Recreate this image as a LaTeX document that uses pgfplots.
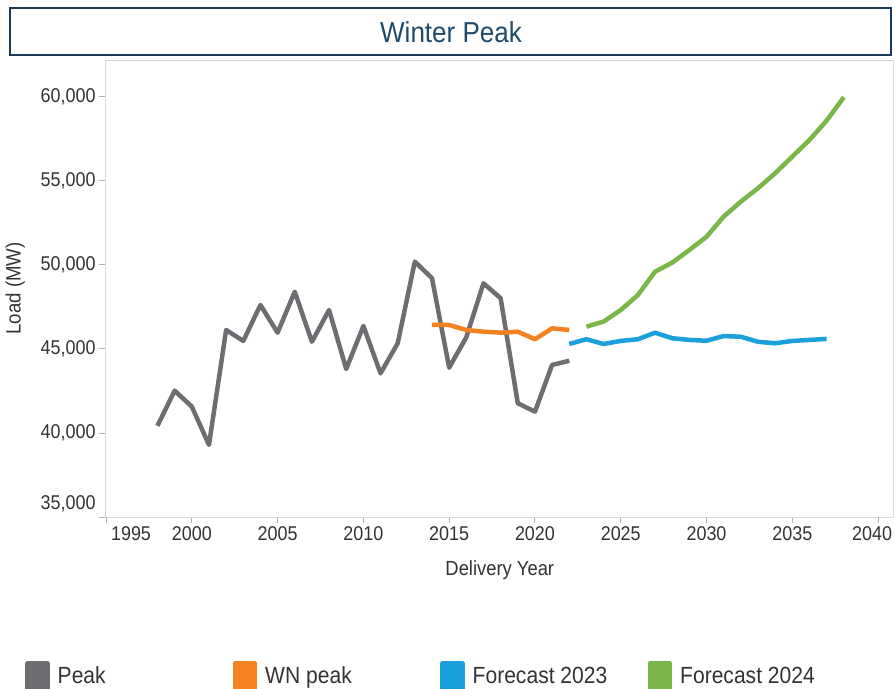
\documentclass[border=0pt]{standalone}
\usepackage{fontspec}
\setmainfont[FakeStretch=0.9]{Liberation Sans}
\usepackage{pgfplots}
\pgfplotsset{compat=1.18}
\definecolor{peakgray}{HTML}{6E6E72}
\definecolor{wnorange}{HTML}{F58220}
\definecolor{fcblue}{HTML}{1AA0DC}
\definecolor{fcgreen}{HTML}{7AB648}
\definecolor{titleblue}{HTML}{1F4A6B}
\definecolor{boxnavy}{HTML}{1B3A57}
\definecolor{ticktext}{HTML}{333333}
\begin{document}
\begin{tikzpicture}
\path[use as bounding box] (0,0) rectangle (894bp,-689bp);
\draw[boxnavy, line width=2.5bp] (10bp,-8bp) rectangle (891bp,-55bp);
\node[text=titleblue, font=\fontsize{29}{29}\selectfont] at (451bp,-32bp) {Winter Peak};
\begin{axis}[
  at={(105bp,-517bp)}, anchor=south west,
  scale only axis, width=788bp, height=457bp,
  xmin=1994.94, xmax=2040.87, ymin=35000, ymax=62200,
  xtick={2000,2005,...,2035}, ytick={40000,45000,...,60000},
  extra x ticks={1995,2040},
  extra x tick labels={\makebox[0pt]{\hspace*{50bp}1995},\makebox[0pt]{\hspace*{-12bp}2040}},
  extra y ticks={35000}, extra y tick style={yticklabel style={yshift=13bp}},
  scaled y ticks=false,
  xtick pos=lower, ytick pos=left, tick align=outside,
  major tick length=6bp,
  tick style={color=black!30, line width=1bp},
  axis line style={color=black!15, line width=1bp},
  /pgf/number format/assume math mode=true,
  x tick label style={/pgf/number format/1000 sep={}},
  y tick label style={/pgf/number format/fixed, /pgf/number format/1000 sep={,}},
  tick label style={text=ticktext, font=\fontsize{20}{20}\selectfont},
  xlabel={Delivery Year}, ylabel={Load (MW)},
  xlabel style={at={(axis description cs:0.501,-0.116)}, anchor=center, text=ticktext, font=\fontsize{20.5}{20.5}\selectfont},
  ylabel style={at={(axis description cs:-0.114,0.5)}, anchor=center, text=ticktext, font=\fontsize{20.8}{20.8}\selectfont},
  legend columns=4,
  legend cell align=left,
  legend image code/.code={\fill[#1] (0bp,-12.5bp) rectangle (20bp,12.5bp);},
  legend style={draw=none, fill=none, inner sep=0pt, at={(axis description cs:-0.1015,-0.348)}, anchor=west, font=\fontsize{23.5}{23.5}\selectfont, text=ticktext,
    /tikz/every odd column/.append style={column sep=6bp}},
  every axis plot/.append style={line width=4.5bp, line join=round},
]
\addplot[peakgray] coordinates {
(1998,40430) (1999,42520) (2000,41570) (2001,39290) (2002,46130) (2003,45480)
(2004,47620) (2005,45970) (2006,48410) (2007,45430) (2008,47320) (2009,43810)
(2010,46370) (2011,43550) (2012,45340) (2013,50200) (2014,49210) (2015,43890)
(2016,45700) (2017,48910) (2018,48020) (2019,41770) (2020,41270) (2021,44050)
(2022,44300)};
\addlegendentry{\makebox[173bp][l]{Peak}}
\addplot[wnorange] coordinates {
(2014,46430) (2015,46430) (2016,46130) (2017,46030) (2018,45970) (2019,46030)
(2020,45580) (2021,46230) (2022,46130)};
\addlegendentry{\makebox[173bp][l]{WN peak}}
\addplot[fcblue] coordinates {
(2022,45300) (2023,45580) (2024,45300) (2025,45480) (2026,45580) (2027,45970)
(2028,45640) (2029,45540) (2030,45490) (2031,45770) (2032,45730) (2033,45430)
(2034,45340) (2035,45480) (2036,45540) (2037,45600)};
\addlegendentry{\makebox[173bp][l]{Forecast 2023}}
\addplot[fcgreen] coordinates {
(2023,46330) (2024,46630) (2025,47320) (2026,48210) (2027,49600) (2028,50140)
(2029,50890) (2030,51680) (2031,52880) (2032,53770) (2033,54570) (2034,55460)
(2035,56450) (2036,57440) (2037,58590) (2038,59980)};
\addlegendentry{Forecast 2024}
\end{axis}
\end{tikzpicture}
\end{document}
